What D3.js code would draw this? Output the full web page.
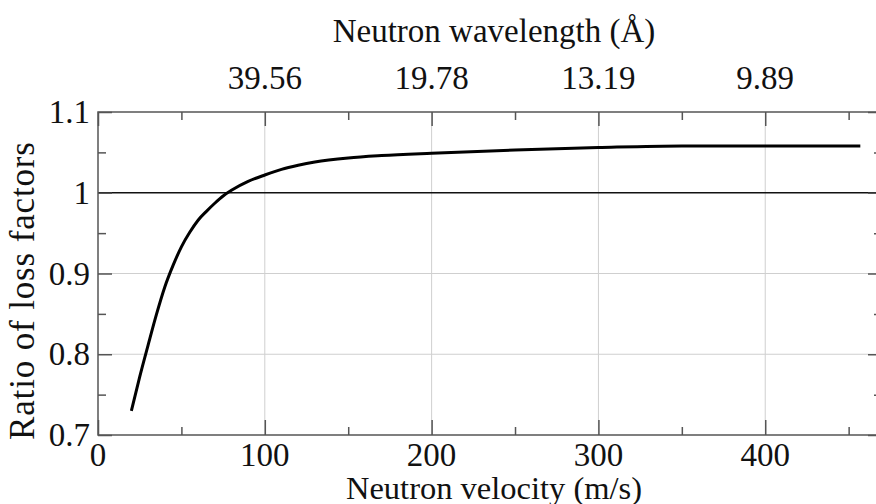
<!DOCTYPE html>
<html><head><meta charset="utf-8">
<script src="https://cdn.jsdelivr.net/npm/d3@7"></script>
<style>body{margin:0;background:#fff}svg{display:block}</style>
</head><body>
<svg id="c" width="876" height="504"></svg>
<script>
const velocity = [20,25,30,35,40,45,50,55,60,65,70,75,80,90,100,110,120,130,150,170,200,250,300,350,400,457];
const ratio    = [0.730,0.772,0.811,0.849,0.883,0.910,0.933,0.951,0.966,0.977,0.987,0.996,1.003,1.014,1.022,1.029,1.034,1.038,1.043,1.046,1.049,1.053,1.056,1.058,1.058,1.058];
const xTicks = [0,100,200,300,400];
const yTicks = [0.7,0.8,0.9,1,1.1];
const yTickLabels = ["0.7","0.8","0.9","1","1.1"];
const topTicks = [100,200,300,400];
const topTickLabels = ["39.56","19.78","13.19","9.89"];
const xMinor = [50,150,250,350,450];
const yMinor = [0.75,0.85,0.95,1.05];

const svg = d3.select("#c");
const L=98, R=882, T=112, B=435;
const x = d3.scaleLinear().domain([0,470]).range([L,R]);
const y = d3.scaleLinear().domain([0.7,1.1]).range([B,T]);
const font = "'Liberation Serif','Times New Roman',serif";
const axisCol = "#555";

svg.append("g").selectAll("line").data(xTicks.filter(d=>d>0)).join("line")
  .attr("x1",d=>x(d)).attr("x2",d=>x(d)).attr("y1",T).attr("y2",B)
  .attr("stroke","#cfcfcf").attr("stroke-width",1);
svg.append("g").selectAll("line").data([0.8,0.9]).join("line")
  .attr("x1",L).attr("x2",R).attr("y1",d=>y(d)).attr("y2",d=>y(d))
  .attr("stroke","#cfcfcf").attr("stroke-width",1);
svg.append("line").attr("x1",L).attr("x2",R).attr("y1",y(1)).attr("y2",y(1))
  .attr("stroke","#111").attr("stroke-width",1.4);

function styleAxis(g){
  g.select(".domain").remove();
  g.selectAll("line").attr("stroke",axisCol).attr("stroke-width",1.5);
  g.selectAll("text").remove();
}
svg.append("g").attr("transform",`translate(0,${B})`)
  .call(d3.axisBottom(x).tickValues(xTicks).tickSize(-15)).call(styleAxis);
svg.append("g").attr("transform",`translate(0,${B})`)
  .call(d3.axisBottom(x).tickValues(xMinor).tickSize(-8)).call(styleAxis);
svg.append("g").attr("transform",`translate(0,${T})`)
  .call(d3.axisTop(x).tickValues(xTicks).tickSize(-14)).call(styleAxis);
svg.append("g").attr("transform",`translate(0,${T})`)
  .call(d3.axisTop(x).tickValues(xMinor).tickSize(-8)).call(styleAxis);
svg.append("g").attr("transform",`translate(${L},0)`)
  .call(d3.axisLeft(y).tickValues(yTicks).tickSize(-14)).call(styleAxis);
svg.append("g").attr("transform",`translate(${L},0)`)
  .call(d3.axisLeft(y).tickValues(yMinor).tickSize(-8)).call(styleAxis);
svg.append("g").attr("transform",`translate(${R},0)`)
  .call(d3.axisRight(y).tickValues(yTicks).tickSize(-14)).call(styleAxis);
svg.append("g").attr("transform",`translate(${R},0)`)
  .call(d3.axisRight(y).tickValues(yMinor).tickSize(-8)).call(styleAxis);

svg.append("rect").attr("x",L).attr("y",T).attr("width",R-L).attr("height",B-T)
  .attr("fill","none").attr("stroke",axisCol).attr("stroke-width",1.5);

const line = d3.line().x((d,i)=>x(velocity[i])).y(d=>y(d)).curve(d3.curveMonotoneX);
svg.append("path").attr("d",line(ratio)).attr("fill","none")
  .attr("stroke","#000").attr("stroke-width",3).attr("stroke-linejoin","round");

const fs = 33;
svg.append("g").selectAll("text").data(xTicks).join("text")
  .attr("x",d=>x(d)).attr("y",466).attr("text-anchor","middle")
  .attr("font-family",font).attr("font-size",fs).attr("fill","#111").text(d=>d);
svg.append("g").selectAll("text").data(yTicks).join("text")
  .attr("x",90).attr("y",d=>y(d)+11).attr("text-anchor","end")
  .attr("font-family",font).attr("font-size",fs).attr("fill","#111").text((d,i)=>yTickLabels[i]);
svg.append("g").selectAll("text").data(topTicks).join("text")
  .attr("x",d=>x(d)).attr("y",89).attr("text-anchor","middle")
  .attr("font-family",font).attr("font-size",fs).attr("fill","#111").text((d,i)=>topTickLabels[i]);

svg.append("text").attr("x",494).attr("y",499).attr("text-anchor","middle")
  .attr("font-family",font).attr("font-size",32.5).attr("fill","#111").text("Neutron velocity (m/s)");
svg.append("text").attr("x",494).attr("y",42).attr("text-anchor","middle")
  .attr("font-family",font).attr("font-size",fs).attr("fill","#111").text("Neutron wavelength (Å)");
svg.append("text").attr("transform","translate(34,291) rotate(-90)").attr("text-anchor","middle")
  .attr("font-family",font).attr("font-size",35).attr("fill","#111")
  .attr("textLength",298).attr("lengthAdjust","spacing").text("Ratio of loss factors");
</script>
</body></html>
